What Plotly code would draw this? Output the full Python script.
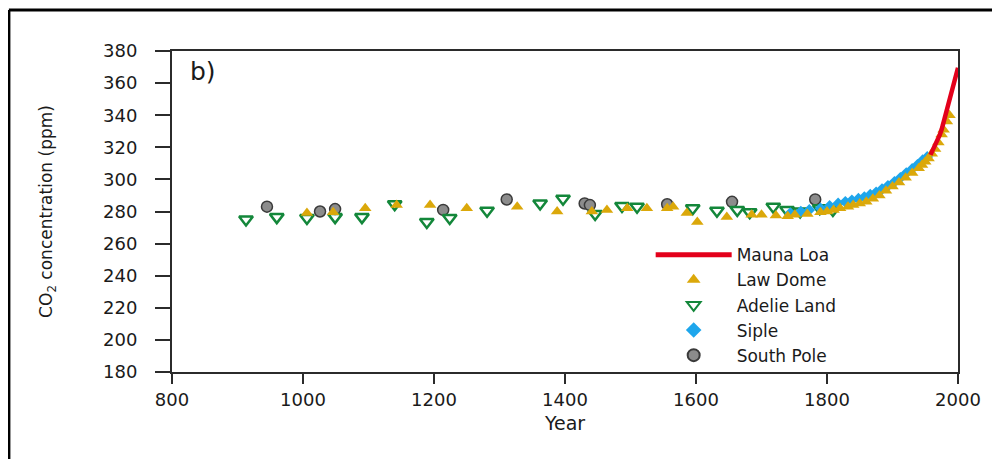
import plotly.graph_objects as go

# ---- data ----
mauna_loa_year = [1958, 1960, 1963, 1966, 1969, 1972, 1975, 1978, 1981, 1984, 1987, 1990, 1993, 1996, 1999, 2000]
mauna_loa_co2 = [315.3, 316.9, 318.9, 321.3, 324.6, 327.5, 331.1, 335.5, 340.1, 344.6, 349.2, 354.4, 357.1, 362.6, 368.3, 369.5]

law_dome_year = [1006, 1046, 1095, 1143, 1194, 1250, 1327, 1388, 1441, 1464, 1495, 1525, 1556, 1565, 1586,
                 1602, 1647, 1685, 1700, 1722, 1740, 1751, 1770, 1790, 1800, 1810, 1820, 1832, 1840, 1850,
                 1860, 1870, 1880, 1890, 1900, 1910, 1920, 1930, 1940, 1945, 1950, 1955, 1960, 1965, 1970,
                 1975, 1978, 1983, 1987]
law_dome_co2 = [279, 279.5, 282, 284, 284, 282, 283, 280, 280, 281, 282, 282, 282, 283, 279,
                273.5, 276.5, 278, 278, 277.5, 277, 278, 278.5, 279.5, 280, 281, 282, 283, 284, 285,
                286, 288, 290, 293, 295.5, 298, 301, 304, 307, 309, 311, 313, 316, 319, 323,
                328, 331, 336, 340]

adelie_year = [913, 960, 1006, 1049, 1090, 1140, 1189, 1224, 1281, 1362, 1397, 1446, 1487, 1510,
               1595, 1632, 1663, 1682, 1718, 1739, 1759, 1789, 1809]
adelie_co2 = [275, 276.5, 276, 276.5, 276.5, 284.5, 273.5, 276, 280.5, 285, 288, 278.5, 283.5, 283,
              282, 280.5, 281, 279.5, 283, 281, 280, 282, 281]

siple_year = [1744, 1760, 1773, 1790, 1804, 1817, 1828, 1838, 1848, 1857, 1866, 1875, 1884, 1893,
              1903, 1912, 1921, 1930, 1938, 1946, 1953]
siple_co2 = [279, 280, 281, 282, 283.5, 285, 286, 287, 288, 289, 290.5, 292, 294, 296,
             298.5, 301, 304, 306.5, 309, 312, 314]

south_pole_year = [945, 1026, 1049, 1214, 1311, 1430, 1438, 1556, 1655, 1782]
south_pole_co2 = [283, 280, 281.5, 281, 287.5, 285, 284, 284.5, 286, 287.5]

x_ticks = [800, 1000, 1200, 1400, 1600, 1800, 2000]
y_ticks = [180, 200, 220, 240, 260, 280, 300, 320, 340, 360, 380]

FONT = "DejaVu Sans"
INK = "#1a1a1a"

fig = go.Figure()

fig.add_trace(go.Scatter(
    x=south_pole_year, y=south_pole_co2, mode="markers", name="South Pole", legendrank=5,
    marker=dict(symbol="circle", size=11, color="#8c8c8c", line=dict(color="#3a3a3a", width=1.5)),
))
fig.add_trace(go.Scatter(
    x=adelie_year, y=adelie_co2, mode="markers", name="Adelie Land", legendrank=3,
    marker=dict(symbol="triangle-down-open", size=12, color="#13873a", line=dict(color="#13873a", width=2.5)),
))
fig.add_trace(go.Scatter(
    x=siple_year, y=siple_co2, mode="markers", name="Siple", legendrank=4,
    marker=dict(symbol="diamond", size=9, color="#1ea6ec", line=dict(width=0)),
))
fig.add_trace(go.Scatter(
    x=law_dome_year, y=law_dome_co2, mode="markers", name="Law Dome", legendrank=2,
    marker=dict(symbol="triangle-up", size=11, color="#dba80a", line=dict(width=0)),
))
fig.add_trace(go.Scatter(
    x=mauna_loa_year, y=mauna_loa_co2, mode="lines", name="Mauna Loa", legendrank=1,
    line=dict(color="#e3001b", width=4.5),
))

axis_common = dict(
    showgrid=False, zeroline=False, showline=True, linecolor="#2b2b2b", linewidth=2,
    mirror=True, ticks="outside", tickcolor="#2b2b2b", tickwidth=2,
    tickfont=dict(family=FONT, size=18, color=INK),
)

fig.update_xaxes(
    range=[800, 2000], tickvals=x_ticks, ticklen=10,
    title=dict(text="Year", font=dict(family=FONT, size=19, color=INK), standoff=8),
    **axis_common,
)
fig.update_yaxes(
    range=[180, 380], tickvals=y_ticks, ticklen=15, ticklabelstandoff=14,
    title=dict(text="CO<sub>2</sub> concentration (ppm)", font=dict(family=FONT, size=17, color=INK), standoff=46),
    **axis_common,
)

fig.add_annotation(
    text="b)", xref="paper", yref="paper", x=0.02, y=0.935, xanchor="left", yanchor="middle",
    showarrow=False, font=dict(family=FONT, size=25, color=INK),
)

# outer frame (left and top edges)
fig.add_shape(type="line", xref="paper", yref="paper", x0=-0.2075, x1=-0.2075, y0=-0.4, y1=1.128,
              line=dict(color="black", width=3))
fig.add_shape(type="line", xref="paper", yref="paper", x0=-0.2075, x1=1.1, y0=1.128, y1=1.128,
              line=dict(color="black", width=3))

fig.update_layout(
    width=1000, height=459,
    margin=dict(l=164, r=50, t=43, b=95),
    paper_bgcolor="white", plot_bgcolor="white",
    font=dict(family=FONT, color=INK),
    legend=dict(
        x=0.609, y=0.42, xanchor="left", yanchor="top",
        itemwidth=76, itemsizing="constant",
        bgcolor="rgba(0,0,0,0)", font=dict(family=FONT, size=17, color=INK),
        tracegroupgap=0,
    ),
    showlegend=True,
)

fig.write_html("out.html")
